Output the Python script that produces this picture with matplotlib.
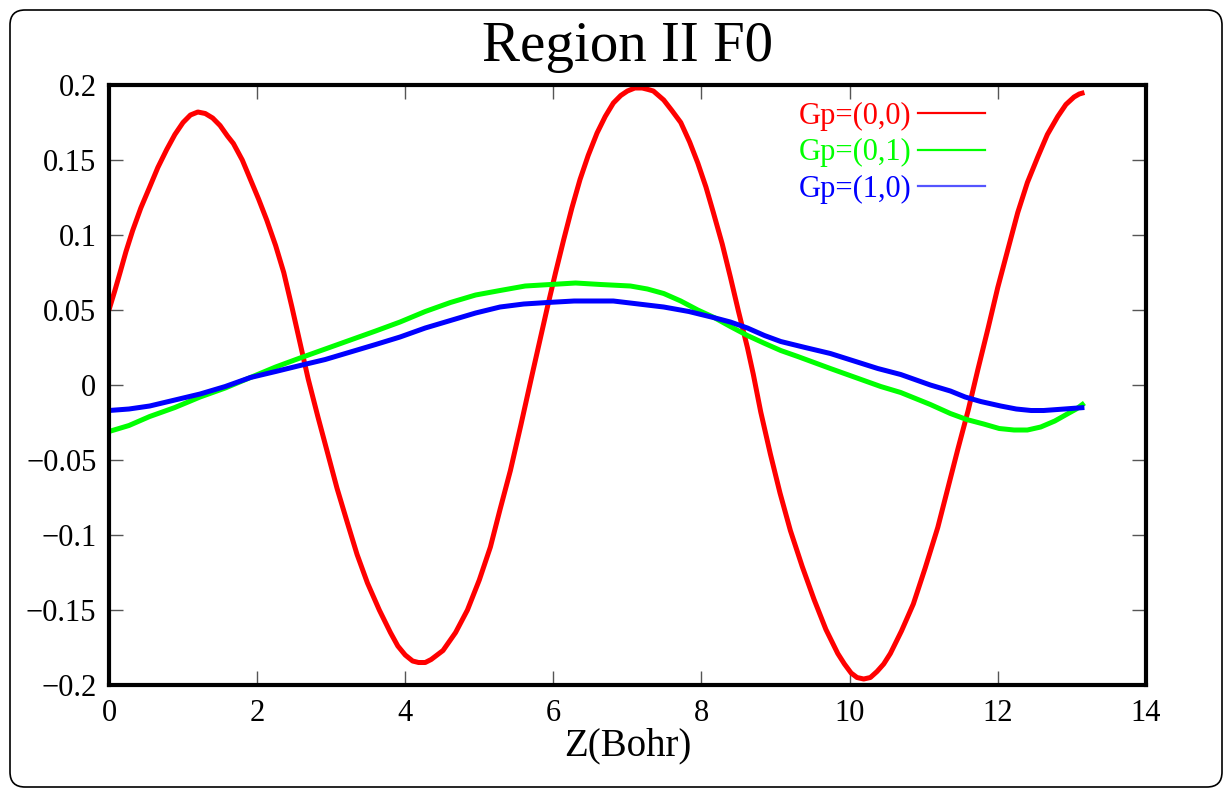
import matplotlib
matplotlib.use("Agg")
import matplotlib.pyplot as plt
from matplotlib.patches import FancyBboxPatch
from matplotlib.lines import Line2D

plt.rcParams['font.family'] = ['Liberation Serif', 'DejaVu Serif']

# Z positions (Bohr) and F0 values for each reciprocal-lattice component
z_00 = [0.00, 0.08, 0.15, 0.23, 0.32, 0.43, 0.55, 0.66, 0.78, 0.89, 1.00, 1.10,
        1.20, 1.30, 1.40, 1.50, 1.60, 1.68, 1.80, 1.91, 2.02, 2.13, 2.25, 2.36,
        2.47, 2.58, 2.69, 2.82, 2.95, 3.08, 3.22, 3.35, 3.49, 3.65, 3.80, 3.90,
        4.00, 4.10, 4.18, 4.27, 4.35, 4.43, 4.51, 4.68, 4.84, 5.00, 5.15, 5.28,
        5.42, 5.56, 5.70, 5.81, 5.92, 6.03, 6.14, 6.25, 6.36, 6.47, 6.59, 6.70,
        6.81, 6.91, 7.00, 7.10, 7.20, 7.28, 7.35, 7.42, 7.49, 7.60, 7.72, 7.84,
        7.95, 8.06, 8.16, 8.28, 8.39, 8.50, 8.62, 8.70, 8.80, 8.93, 9.06, 9.20,
        9.36, 9.52, 9.68, 9.84, 9.93, 10.02, 10.10, 10.19, 10.28, 10.37, 10.46,
        10.55, 10.70, 10.86, 11.02, 11.19, 11.32, 11.46, 11.60, 11.73, 11.87,
        12.00, 12.14, 12.27, 12.40, 12.54, 12.67, 12.81, 12.92, 13.03, 13.10,
        13.17]
f_00 = [0.050, 0.063, 0.075, 0.089, 0.103, 0.118, 0.132, 0.145, 0.157, 0.167,
        0.175, 0.180, 0.182, 0.181, 0.178, 0.173, 0.166, 0.161, 0.150, 0.137,
        0.124, 0.110, 0.093, 0.075, 0.052, 0.028, 0.004, -0.021, -0.045, -0.069,
        -0.092, -0.113, -0.132, -0.150, -0.165, -0.174, -0.180, -0.184, -0.185,
        -0.185, -0.183, -0.180, -0.177, -0.165, -0.150, -0.130, -0.108, -0.083,
        -0.057, -0.027, 0.004, 0.028, 0.052, 0.075, 0.097, 0.118, 0.137, 0.153,
        0.168, 0.179, 0.188, 0.193, 0.196, 0.198, 0.198, 0.197, 0.196, 0.193,
        0.190, 0.183, 0.175, 0.162, 0.148, 0.132, 0.115, 0.094, 0.072, 0.049,
        0.025, 0.007, -0.018, -0.046, -0.072, -0.097, -0.121, -0.143, -0.163,
        -0.179, -0.186, -0.192, -0.195, -0.196, -0.195, -0.191, -0.186, -0.179,
        -0.164, -0.146, -0.122, -0.095, -0.070, -0.043, -0.017, 0.010, 0.038,
        0.065, 0.091, 0.115, 0.135, 0.152, 0.167, 0.179, 0.187, 0.192, 0.194,
        0.195]

z_01 = [0.00, 0.27, 0.55, 0.89, 1.23, 1.57, 1.91, 2.25, 2.58, 2.92, 3.26, 3.60,
        3.93, 4.27, 4.61, 4.95, 5.28, 5.62, 5.96, 6.30, 6.64, 7.04, 7.27, 7.49,
        7.72, 7.95, 8.17, 8.39, 8.62, 8.84, 9.07, 9.30, 9.52, 9.74, 10.08, 10.42,
        10.69, 11.09, 11.36, 11.58, 11.81, 12.02, 12.22, 12.40, 12.58, 12.77,
        12.95, 13.06, 13.17]
f_01 = [-0.031, -0.027, -0.021, -0.015, -0.008, -0.002, 0.005, 0.012, 0.018,
        0.024, 0.030, 0.036, 0.042, 0.049, 0.055, 0.060, 0.063, 0.066, 0.067,
        0.068, 0.067, 0.066, 0.064, 0.061, 0.056, 0.050, 0.045, 0.039, 0.033,
        0.028, 0.023, 0.019, 0.015, 0.011, 0.005, -0.001, -0.005, -0.013, -0.019,
        -0.023, -0.026, -0.029, -0.030, -0.030, -0.028, -0.024, -0.019, -0.016,
        -0.012]

z_10 = [0.00, 0.27, 0.55, 0.89, 1.23, 1.57, 1.91, 2.25, 2.58, 2.92, 3.26, 3.60,
        3.93, 4.27, 4.61, 4.95, 5.28, 5.60, 5.92, 6.28, 6.64, 6.81, 7.15, 7.49,
        7.83, 8.16, 8.39, 8.62, 8.85, 9.07, 9.40, 9.74, 10.06, 10.38, 10.69,
        11.09, 11.36, 11.56, 11.77, 12.04, 12.25, 12.45, 12.62, 12.90, 13.17]
f_10 = [-0.017, -0.016, -0.014, -0.010, -0.006, -0.001, 0.005, 0.009, 0.013,
        0.017, 0.022, 0.027, 0.032, 0.038, 0.043, 0.048, 0.052, 0.054, 0.055,
        0.056, 0.056, 0.056, 0.054, 0.052, 0.049, 0.045, 0.042, 0.038, 0.033,
        0.029, 0.025, 0.021, 0.016, 0.011, 0.007, 0.000, -0.004, -0.008, -0.011,
        -0.014, -0.016, -0.017, -0.017, -0.016, -0.015]

labels = ["Gp=(0,0)", "Gp=(0,1)", "Gp=(1,0)"]
colors = ["#ff0000", "#00ff00", "#0000ff"]
key_colors = ["#ff0000", "#00ff00", "#5555ff"]

x_ticks = [0, 2, 4, 6, 8, 10, 12, 14]
y_ticks = [-0.2, -0.15, -0.1, -0.05, 0, 0.05, 0.1, 0.15, 0.2]
y_ticklabels = ["\u22120.2", "\u22120.15", "\u22120.1", "\u22120.05", "0",
                "0.05", "0.1", "0.15", "0.2"]

fig = plt.figure(figsize=(12.27, 7.90), dpi=100)
ax = fig.add_axes([0.0888, 0.1329, 0.8451, 0.7595])

for z, f, c in zip([z_00, z_01, z_10], [f_00, f_01, f_10], colors):
    ax.plot(z, f, color=c, lw=3.6, solid_joinstyle='round', solid_capstyle='butt')

ax.set_xlim(0, 14)
ax.set_ylim(-0.2, 0.2)
ax.set_xticks(x_ticks)
ax.set_xticklabels([str(t) for t in x_ticks])
ax.set_yticks(y_ticks)
ax.set_yticklabels(y_ticklabels)
ax.tick_params(direction='in', length=10, width=1.0, color='#555555',
               top=True, right=True, labelsize=22)
ax.tick_params(axis='x', pad=10)
ax.tick_params(axis='y', pad=9)
for s in ax.spines.values():
    s.set_linewidth(3)
    s.set_color('black')

ax.set_xlabel("Z(Bohr)", fontsize=28, labelpad=0)
ax.set_title("Region II F0", fontsize=41, pad=17)

handles = [Line2D([], [], color=c, lw=1.6) for c in key_colors]
leg = ax.legend(handles, labels, loc='upper right', bbox_to_anchor=(0.845, 0.972),
                frameon=False, markerfirst=False, fontsize=22, handlelength=2.2,
                handletextpad=0.2, labelspacing=0.24, borderaxespad=0, borderpad=0,
                labelcolor=colors)

# rounded frame around the whole figure
frame = FancyBboxPatch((0.10, 0.03), 12.12, 7.77,
                       boxstyle="round,pad=0,rounding_size=0.15",
                       transform=fig.dpi_scale_trans, fill=False,
                       edgecolor='black', lw=1.2)
fig.patches.append(frame)

fig.savefig("out.png", dpi=100)
